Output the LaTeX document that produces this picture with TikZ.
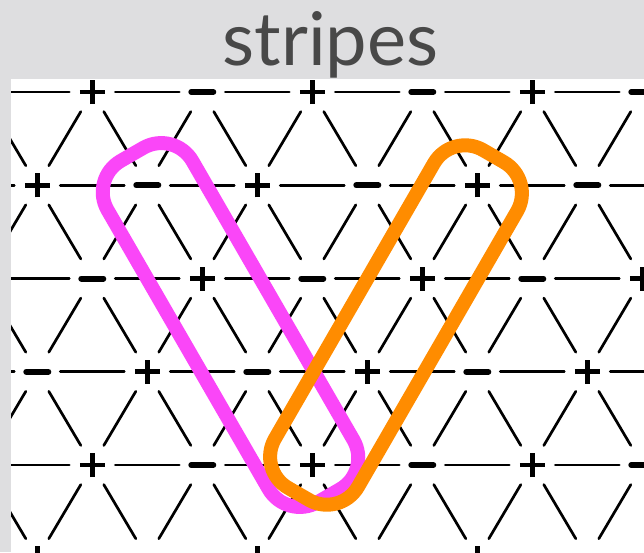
\documentclass[tikz,border=0pt]{standalone}
\usepackage{fontspec}
\newfontfamily\titlefont{Lato}
\definecolor{bggray}{RGB}{222,222,224}
\definecolor{titlegray}{RGB}{72,72,72}
\definecolor{stripepink}{RGB}{250,70,248}
\definecolor{stripeorange}{RGB}{255,140,0}
\tikzset{
  edge/.style={line width=2.7pt,line cap=round},
  plusmark/.style={line width=4.8pt},
  minusmark/.style={line width=6pt,line cap=round},
  loop/.style={line width=14pt,rounded corners=36pt,line join=round}
}
\begin{document}
\begin{tikzpicture}[x=1pt,y=1pt]
\useasboundingbox (0,0) rectangle (644,-552);
\fill[bggray] (0,0) rectangle (644,-552);
\fill[white] (11,-79) rectangle (644,-552);
% triangular lattice, + and - on the sites
\begin{scope}
\clip (11,-79) rectangle (644,-552);
\foreach \r in {0,...,5}{
  \foreach \i in {-1,...,9}{
    \pgfmathsetmacro{\px}{92.3+110*\i-55*\r}
    \pgfmathsetmacro{\py}{-92-93.25*\r}
    \draw[edge] (\px+23,\py) -- (\px+87,\py);
    \draw[edge] (\px-11.5,\py-19.6) -- (\px-43.5,\py-73.7);
    \draw[edge] (\px+11.5,\py-19.6) -- (\px+43.5,\py-73.7);
    \ifodd\i
      \draw[minusmark] (\px-11,\py) -- (\px+11,\py);
    \else
      \draw[plusmark] (\px-12.5,\py) -- (\px+12.5,\py) (\px,\py-12) -- (\px,\py+12);
    \fi
  }
}
\end{scope}
% the two stripes
\begin{scope}[shift={(230.5,-325)},rotate=-60]
\draw[loop,stripepink] (-197,-49) -- (197,-49) -- (197,49) -- (-197,49) -- cycle;
\end{scope}
\begin{scope}[shift={(396,-325)},rotate=60]
\draw[loop,stripeorange] (-195,-48) -- (195,-48) -- (195,48) -- (-195,48) -- cycle;
\end{scope}
\node[anchor=base,inner sep=0pt,text=titlegray,font=\titlefont\fontsize{74}{78}\selectfont] (title) at (330.5,-65) {stripes};
\end{tikzpicture}
\end{document}
